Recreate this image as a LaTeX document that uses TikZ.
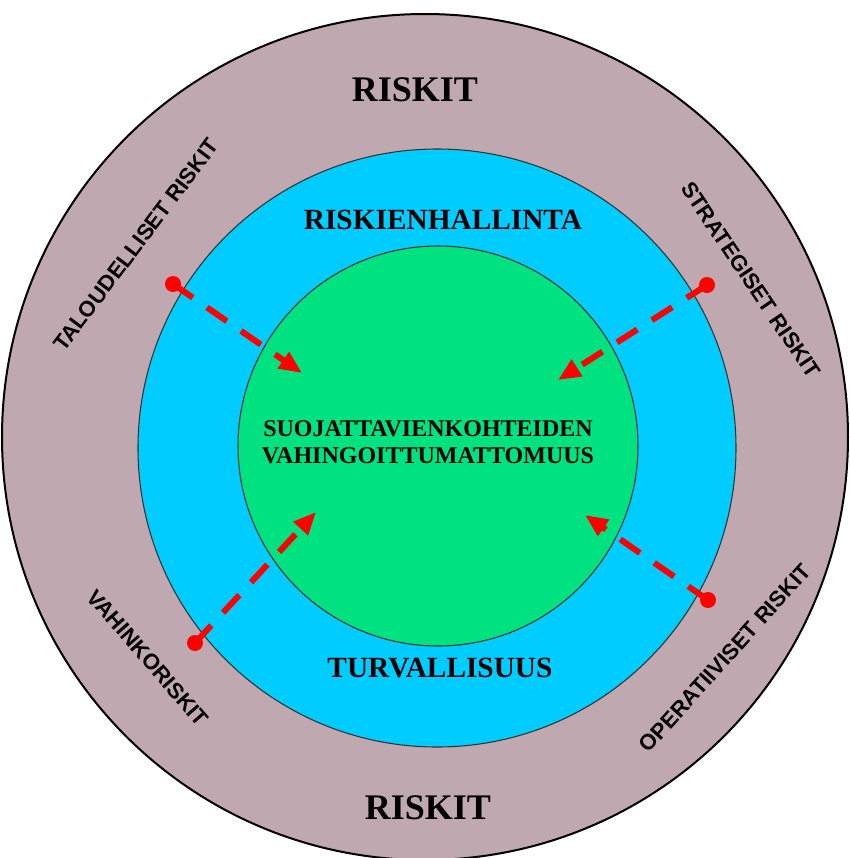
\documentclass[tikz,border=0pt]{standalone}
\usepackage{fontspec}
\setmainfont{Liberation Serif}
\newfontfamily\labelfont{Liberation Sans}
\usetikzlibrary{arrows.meta}

\definecolor{ringmauve}{RGB}{192,168,176}
\definecolor{zoneblue}{RGB}{0,204,255}
\definecolor{coregreen}{RGB}{0,226,128}
\definecolor{riskred}{RGB}{255,0,0}

\tikzset{
  ring/.style={circle, inner sep=0pt},
  ringtitle/.style={font=\bfseries\fontsize{27}{30}\selectfont, inner sep=0pt},
  zonetitle/.style={font=\bfseries\fontsize{22}{26}\selectfont, inner sep=0pt},
  coretext/.style={font=\bfseries\fontsize{18}{20}\selectfont, inner sep=0pt},
  risklabel/.style={font=\labelfont\bfseries\fontsize{16.5}{18}\selectfont, inner sep=0pt},
  riskdot/.style={circle, fill=riskred, minimum size=12pt, inner sep=0pt},
  riskarrow/.style={draw=riskred, line width=4.5pt,
    dash pattern=on 18pt off 13pt,
    -{Triangle[length=17pt,width=14pt]}}
}

\begin{document}
\begin{tikzpicture}[x=0.75pt,y=-0.75pt]
\useasboundingbox (0,0) rectangle (850,858);

% concentric zones
\node[ring, draw=black, line width=1.5pt, fill=ringmauve, minimum size=634.5pt] (outer) at (425,437) {};
\node[ring, draw=black!80, line width=0.8pt, fill=zoneblue, minimum size=448.5pt] (zone) at (437,448) {};
\node[ring, draw=black!80, line width=0.8pt, fill=coregreen, minimum size=300pt] (core) at (438,446) {};

% titles
\node[ringtitle] (riskitTop) at (415,90) {RISKIT};
\node[ringtitle] (riskitBottom) at (428,808) {RISKIT};
\node[zonetitle] (hallinta) at (443,220) {RISKIENHALLINTA};
\node[zonetitle] (turva) at (440,668) {TURVALLISUUS};
\node[coretext] (core1) at (428,429) {SUOJATTAVIENKOHTEIDEN};
\node[coretext] (core2) at (428,456) {VAHINGOITTUMATTOMUUS};

% risk categories in the outer ring
\node[risklabel, rotate=53] (taloud) at (136,245) {TALOUDELLISET RISKIT};
\node[risklabel, rotate=-56] (strat) at (751,280) {STRATEGISET RISKIT};
\node[risklabel, rotate=-49] (vahinko) at (148,658) {VAHINKORISKIT};
\node[risklabel, rotate=48] (operat) at (725,658) {OPERATIIVISET RISKIT};

% risks pointing into the protected core
\node[riskdot] (dotTL) at (173,284) {};
\node[riskdot] (dotTR) at (707,285) {};
\node[riskdot] (dotBL) at (195,643) {};
\node[riskdot] (dotBR) at (708,600) {};
\coordinate (tipTL) at (302,373);
\coordinate (tipTR) at (558,380);
\coordinate (tipBL) at (316,512);
\coordinate (tipBR) at (585,515);

\draw[riskarrow] (dotTL.center) -- (tipTL);
\draw[riskarrow] (dotTR.center) -- (tipTR);
\draw[riskarrow] (dotBL.center) -- (tipBL);
\draw[riskarrow] (dotBR.center) -- (tipBR);
\end{tikzpicture}
\end{document}
